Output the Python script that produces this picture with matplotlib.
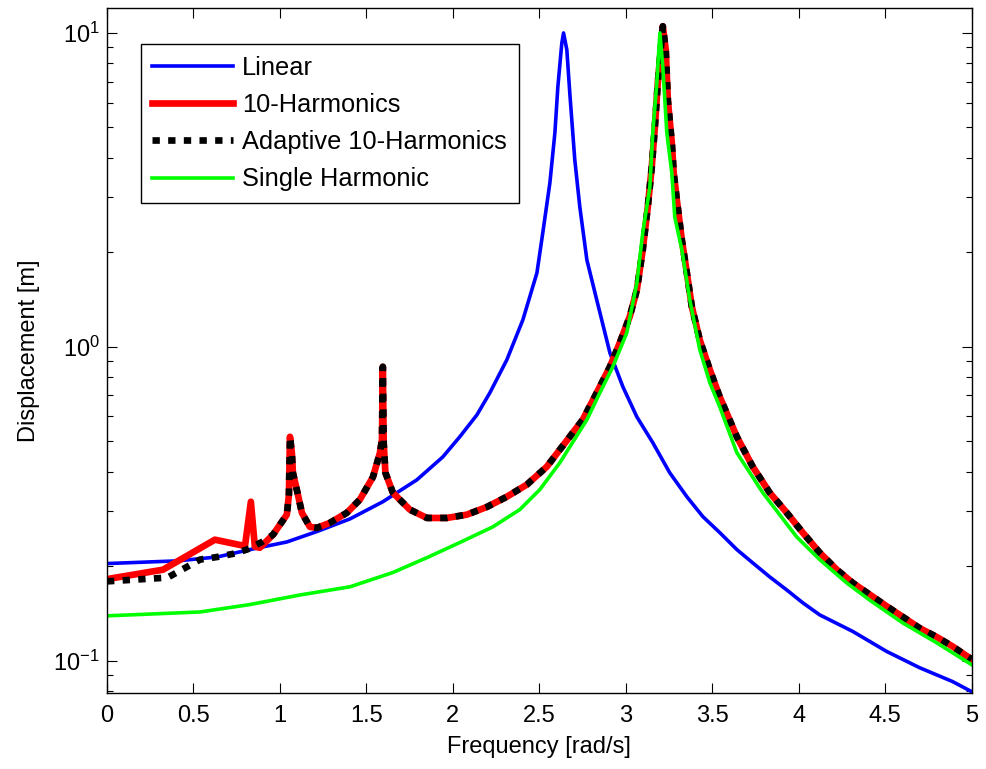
import numpy as np
import matplotlib
matplotlib.use('Agg')
import matplotlib.pyplot as plt
from matplotlib.ticker import LogLocator, MultipleLocator, NullFormatter, FormatStrFormatter

plt.rcParams['font.family'] = ['Liberation Sans', 'DejaVu Sans']

# linear response
f_lin = [0, 0.405, 0.636, 0.827, 1.040, 1.214, 1.405, 1.595, 1.792, 1.942, 2.040, 2.139,
         2.214, 2.312, 2.405, 2.486, 2.520, 2.561, 2.590, 2.607, 2.630, 2.640, 2.659, 2.676,
         2.705, 2.734, 2.775, 2.832, 2.908, 2.983, 3.064, 3.156, 3.254, 3.353, 3.445, 3.543,
         3.642, 3.734, 3.832, 3.931, 4.023, 4.121, 4.312, 4.509, 4.699, 4.890, 5.0]
x_lin = [0.204, 0.208, 0.214, 0.226, 0.239, 0.258, 0.283, 0.321, 0.377, 0.446, 0.517, 0.607,
         0.714, 0.909, 1.22, 1.72, 2.31, 3.33, 4.81, 6.73, 9.29, 10.0, 8.83, 6.44,
         3.94, 2.79, 1.89, 1.41, 0.957, 0.746, 0.598, 0.495, 0.397, 0.333, 0.288, 0.256,
         0.226, 0.205, 0.185, 0.168, 0.153, 0.140, 0.124, 0.107, 0.095, 0.0858, 0.0797]

# 10 harmonics, fixed grid
f_h10 = [0, 0.324, 0.624, 0.798, 0.832, 0.855, 0.884, 0.960, 1.040, 1.052, 1.058, 1.069,
         1.075, 1.098, 1.127, 1.173, 1.214, 1.289, 1.387, 1.462, 1.538, 1.578, 1.590, 1.595,
         1.600, 1.610, 1.653, 1.751, 1.850, 1.965, 2.081, 2.197, 2.312, 2.428, 2.543, 2.618,
         2.751, 2.832, 2.908, 2.965, 3.023, 3.064, 3.098, 3.127, 3.150, 3.168, 3.185, 3.202,
         3.214, 3.231, 3.243, 3.266, 3.277, 3.295, 3.324, 3.353, 3.382, 3.428, 3.486, 3.543,
         3.642, 3.734, 3.832, 3.931, 4.023, 4.121, 4.220, 4.312, 4.428, 4.509, 4.601, 4.699,
         4.798, 4.890, 5.0]
x_h10 = [0.182, 0.195, 0.243, 0.232, 0.321, 0.231, 0.229, 0.252, 0.292, 0.338, 0.517, 0.459,
         0.397, 0.350, 0.296, 0.267, 0.265, 0.275, 0.296, 0.326, 0.385, 0.459, 0.506, 0.864,
         0.494, 0.397, 0.343, 0.303, 0.285, 0.285, 0.292, 0.309, 0.333, 0.364, 0.415, 0.470,
         0.586, 0.714, 0.864, 1.03, 1.25, 1.52, 2.04, 2.79, 3.74, 5.02, 6.93, 8.83,
         10.5, 8.83, 6.12, 4.46, 3.58, 2.94, 2.19, 1.72, 1.34, 1.05, 0.845, 0.693,
         0.517, 0.415, 0.343, 0.296, 0.256, 0.221, 0.195, 0.177, 0.160, 0.149, 0.138, 0.127,
         0.119, 0.111, 0.101]

# adaptive 10 harmonics (differs only below ~0.95 rad/s)
f_ad_low = [0, 0.35, 0.462, 0.538, 0.636, 0.728, 0.809, 0.896]
x_ad_low = [0.179, 0.184, 0.199, 0.210, 0.214, 0.219, 0.226, 0.239]

# single harmonic balance
f_sh = [0, 0.538, 0.827, 1.116, 1.405, 1.653, 1.850, 2.040, 2.231, 2.387, 2.503, 2.618,
        2.775, 2.850, 2.925, 3.006, 3.064, 3.098, 3.139, 3.156, 3.179, 3.197, 3.214, 3.237,
        3.266, 3.283, 3.324, 3.370, 3.428, 3.486, 3.543, 3.642, 3.792, 3.988, 4.121, 4.277,
        4.410, 4.601, 4.798, 5.0]
x_sh = [0.139, 0.143, 0.151, 0.162, 0.172, 0.191, 0.213, 0.238, 0.267, 0.303, 0.351, 0.427,
        0.586, 0.714, 0.864, 1.11, 1.60, 2.31, 3.23, 4.81, 6.93, 10.0, 7.79, 4.81,
        3.58, 2.59, 2.04, 1.41, 0.978, 0.768, 0.644, 0.460, 0.343, 0.248, 0.210, 0.177,
        0.156, 0.132, 0.114, 0.0971]

# adaptive curve = own low-frequency part + shared upper part
cut = next(i for i, f in enumerate(f_h10) if f > 0.95)
f_ad = f_ad_low + f_h10[cut:]
x_ad = x_ad_low + x_h10[cut:]

fig = plt.figure(figsize=(9.86, 7.69), dpi=100)
ax = fig.add_axes([0.1085, 0.099, 0.877, 0.8905])

ax.plot(f_lin, x_lin, color=(0, 0, 1), lw=2.6, label='Linear')
ax.plot(f_h10, x_h10, color=(1, 0, 0), lw=4.8, label='10-Harmonics')
ax.plot(f_ad, x_ad, color='k', lw=4.8, dashes=(1.1, 1.25), label='Adaptive 10-Harmonics')
ax.plot(f_sh, x_sh, color=(0, 1, 0), lw=2.6, label='Single Harmonic')

ax.set_yscale('log')
ax.set_xlim(0, 5)
ax.set_ylim(0.079, 12.0)
ax.xaxis.set_major_locator(MultipleLocator(0.5))
ax.xaxis.set_major_formatter(FormatStrFormatter('%g'))
ax.yaxis.set_major_locator(LogLocator(base=10))
ax.yaxis.set_minor_locator(LogLocator(base=10, subs=np.arange(2, 10)))
ax.yaxis.set_minor_formatter(NullFormatter())

ax.tick_params(which='both', direction='in', top=True, right=True, width=0.8)
ax.tick_params(which='major', length=7)
ax.tick_params(which='minor', length=4)
ax.tick_params(axis='x', labelsize=17, pad=9)
ax.tick_params(axis='y', labelsize=17, pad=5)
for s in ax.spines.values():
    s.set_linewidth(1.0)

ax.set_xlabel('Frequency [rad/s]', fontsize=17, labelpad=6)
ax.set_ylabel('Displacement [m]', fontsize=17, labelpad=10)

leg = ax.legend(loc='upper left', bbox_to_anchor=(0.039, 0.947), fontsize=18.3,
                fancybox=False, edgecolor='k', framealpha=1, handlelength=3.2,
                handletextpad=0.35, borderpad=0.45, labelspacing=0.52, borderaxespad=0)
leg.get_frame().set_linewidth(1.0)

fig.savefig('out.png', dpi=100)
